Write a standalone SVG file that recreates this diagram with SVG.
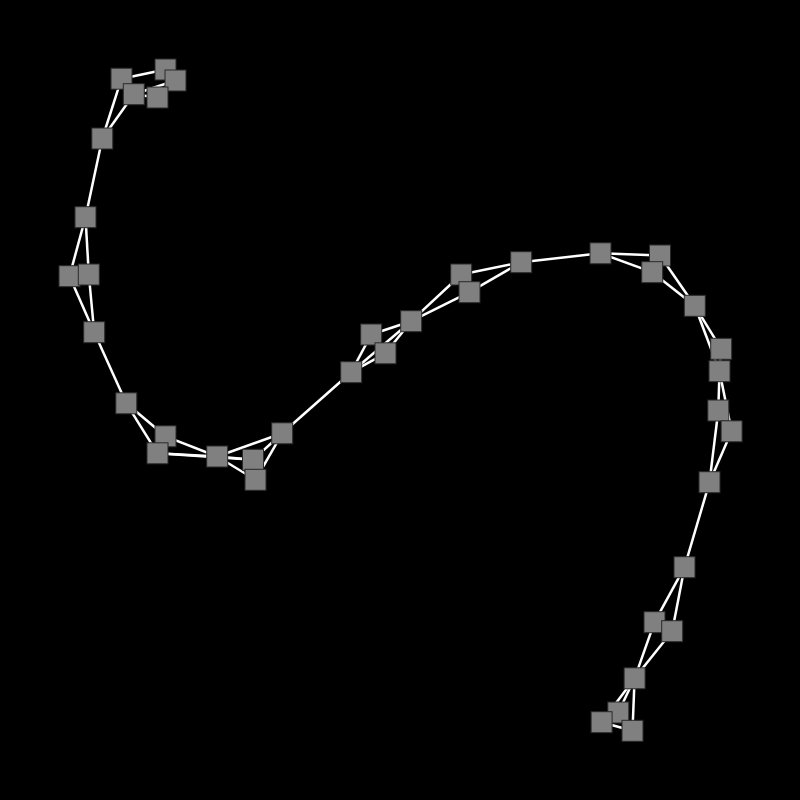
<svg xmlns="http://www.w3.org/2000/svg" width="800" height="800" viewBox="0 0 800 800">
<style>
.e{stroke:#ffffff;stroke-width:2.5;fill:none}
.n{fill:#808080;stroke:#2a2a2a;stroke-width:1}
</style>
<defs><rect id="sq" x="-10.5" y="-10.5" width="21" height="21" class="n"/></defs>
<rect x="0" y="0" width="800" height="800" fill="#000000"/>
<g id="connectors">
<line class="e" x1="102.3" y1="138.5" x2="121.5" y2="78.7"/>
<line class="e" x1="102.3" y1="138.5" x2="133.8" y2="94.2"/>
<line class="e" x1="121.5" y1="78.7" x2="165.5" y2="69.5"/>
<line class="e" x1="133.8" y1="94.2" x2="175.5" y2="80.5"/>
<line class="e" x1="133.8" y1="94.2" x2="157.5" y2="97.5"/>
<line class="e" x1="102.3" y1="138.5" x2="85.5" y2="217.2"/>
<line class="e" x1="85.5" y1="217.2" x2="69.5" y2="276.2"/>
<line class="e" x1="85.5" y1="217.2" x2="88.8" y2="274.5"/>
<line class="e" x1="69.5" y1="276.2" x2="94.2" y2="332.2"/>
<line class="e" x1="88.8" y1="274.5" x2="94.2" y2="332.2"/>
<line class="e" x1="94.2" y1="332.2" x2="126.3" y2="403.3"/>
<line class="e" x1="126.3" y1="403.3" x2="165.5" y2="436.3"/>
<line class="e" x1="126.3" y1="403.3" x2="157.5" y2="453.3"/>
<line class="e" x1="165.5" y1="436.3" x2="217.2" y2="456.5"/>
<line class="e" x1="157.5" y1="453.3" x2="217.2" y2="456.5"/>
<line class="e" x1="157.5" y1="453.3" x2="253" y2="459.8"/>
<line class="e" x1="217.2" y1="456.5" x2="253" y2="459.8"/>
<line class="e" x1="217.2" y1="456.5" x2="255.5" y2="479.8"/>
<line class="e" x1="217.2" y1="456.5" x2="282.2" y2="433.3"/>
<line class="e" x1="253" y1="459.8" x2="282.2" y2="433.3"/>
<line class="e" x1="255.5" y1="479.8" x2="282.2" y2="433.3"/>
<line class="e" x1="282.2" y1="433.3" x2="351.2" y2="372.2"/>
<line class="e" x1="351.2" y1="372.2" x2="371.2" y2="334.5"/>
<line class="e" x1="351.2" y1="372.2" x2="385.5" y2="353.3"/>
<line class="e" x1="351.2" y1="372.2" x2="411.2" y2="321.2"/>
<line class="e" x1="371.2" y1="334.5" x2="411.2" y2="321.2"/>
<line class="e" x1="385.5" y1="353.3" x2="411.2" y2="321.2"/>
<line class="e" x1="411.2" y1="321.2" x2="461.2" y2="274.5"/>
<line class="e" x1="411.2" y1="321.2" x2="469.5" y2="292.2"/>
<line class="e" x1="461.2" y1="274.5" x2="521.2" y2="262.2"/>
<line class="e" x1="469.5" y1="292.2" x2="521.2" y2="262.2"/>
<line class="e" x1="521.2" y1="262.2" x2="600.5" y2="253.3"/>
<line class="e" x1="600.5" y1="253.3" x2="660" y2="255.5"/>
<line class="e" x1="600.5" y1="253.3" x2="652.2" y2="272.2"/>
<line class="e" x1="660" y1="255.5" x2="694.8" y2="305.8"/>
<line class="e" x1="652.2" y1="272.2" x2="694.8" y2="305.8"/>
<line class="e" x1="694.8" y1="305.8" x2="721.2" y2="348.8"/>
<line class="e" x1="694.8" y1="305.8" x2="719.5" y2="371.2"/>
<line class="e" x1="721.2" y1="348.8" x2="719.5" y2="371.2"/>
<line class="e" x1="719.5" y1="371.2" x2="718.3" y2="410.5"/>
<line class="e" x1="719.5" y1="371.2" x2="731.6" y2="431.3"/>
<line class="e" x1="718.3" y1="410.5" x2="709.5" y2="482.2"/>
<line class="e" x1="731.6" y1="431.3" x2="709.5" y2="482.2"/>
<line class="e" x1="709.5" y1="482.2" x2="684.5" y2="567.2"/>
<line class="e" x1="684.5" y1="567.2" x2="654.5" y2="622.2"/>
<line class="e" x1="684.5" y1="567.2" x2="672.2" y2="631.2"/>
<line class="e" x1="654.5" y1="622.2" x2="634.6" y2="678.3"/>
<line class="e" x1="672.2" y1="631.2" x2="634.6" y2="678.3"/>
<line class="e" x1="634.6" y1="678.3" x2="618.3" y2="712.5"/>
<line class="e" x1="634.6" y1="678.3" x2="601.6" y2="722.2"/>
<line class="e" x1="634.6" y1="678.3" x2="632.5" y2="730.8"/>
<line class="e" x1="601.6" y1="722.2" x2="632.5" y2="730.8"/>
</g>
<g id="nA"><use href="#sq" x="121.5" y="78.7"/></g>
<g id="nB"><use href="#sq" x="165.5" y="69.5"/></g>
<g id="nC"><use href="#sq" x="175.5" y="80.5"/></g>
<g id="nD"><use href="#sq" x="133.8" y="94.2"/></g>
<g id="nE"><use href="#sq" x="157.5" y="97.5"/></g>
<g id="nF"><use href="#sq" x="102.3" y="138.5"/></g>
<g id="nG"><use href="#sq" x="85.5" y="217.2"/></g>
<g id="nH"><use href="#sq" x="69.5" y="276.2"/></g>
<g id="nI"><use href="#sq" x="88.8" y="274.5"/></g>
<g id="nJ"><use href="#sq" x="94.2" y="332.2"/></g>
<g id="nK"><use href="#sq" x="126.3" y="403.3"/></g>
<g id="nL"><use href="#sq" x="165.5" y="436.3"/></g>
<g id="nM"><use href="#sq" x="157.5" y="453.3"/></g>
<g id="nN"><use href="#sq" x="217.2" y="456.5"/></g>
<g id="nO"><use href="#sq" x="253" y="459.8"/></g>
<g id="nP"><use href="#sq" x="255.5" y="479.8"/></g>
<g id="nQ"><use href="#sq" x="282.2" y="433.3"/></g>
<g id="nR"><use href="#sq" x="351.2" y="372.2"/></g>
<g id="nS"><use href="#sq" x="371.2" y="334.5"/></g>
<g id="nT"><use href="#sq" x="385.5" y="353.3"/></g>
<g id="nU"><use href="#sq" x="411.2" y="321.2"/></g>
<g id="nV"><use href="#sq" x="461.2" y="274.5"/></g>
<g id="nW"><use href="#sq" x="469.5" y="292.2"/></g>
<g id="nX"><use href="#sq" x="521.2" y="262.2"/></g>
<g id="nY"><use href="#sq" x="600.5" y="253.3"/></g>
<g id="nZ"><use href="#sq" x="660" y="255.5"/></g>
<g id="nAA"><use href="#sq" x="652.2" y="272.2"/></g>
<g id="nAB"><use href="#sq" x="694.8" y="305.8"/></g>
<g id="nAC"><use href="#sq" x="721.2" y="348.8"/></g>
<g id="nAD"><use href="#sq" x="719.5" y="371.2"/></g>
<g id="nAE"><use href="#sq" x="718.3" y="410.5"/></g>
<g id="nAF"><use href="#sq" x="731.6" y="431.3"/></g>
<g id="nAG"><use href="#sq" x="709.5" y="482.2"/></g>
<g id="nAH"><use href="#sq" x="684.5" y="567.2"/></g>
<g id="nAI"><use href="#sq" x="654.5" y="622.2"/></g>
<g id="nAJ"><use href="#sq" x="672.2" y="631.2"/></g>
<g id="nAK"><use href="#sq" x="634.6" y="678.3"/></g>
<g id="nAL"><use href="#sq" x="618.3" y="712.5"/></g>
<g id="nAM"><use href="#sq" x="601.6" y="722.2"/></g>
<g id="nAN"><use href="#sq" x="632.5" y="730.8"/></g>
</svg>
